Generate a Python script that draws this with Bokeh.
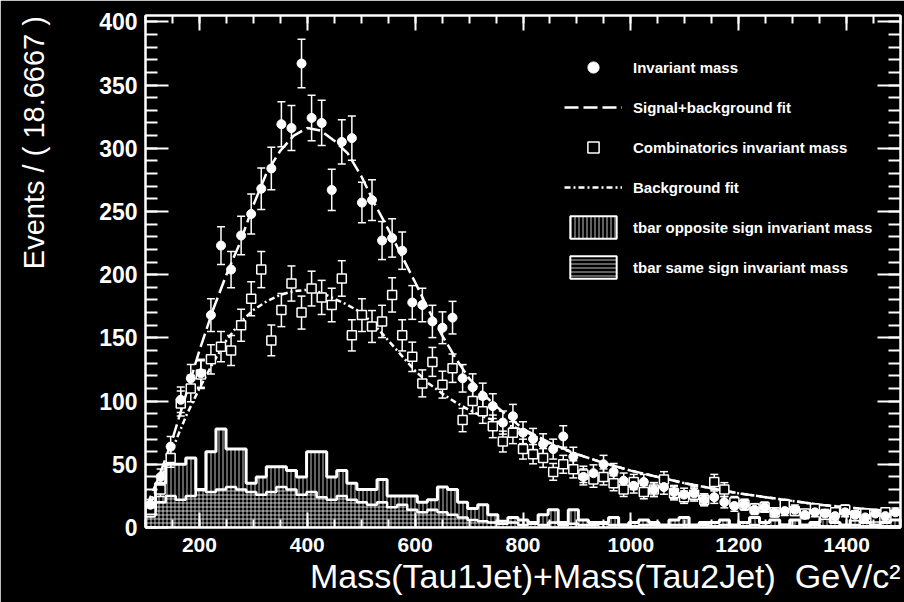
import numpy as np
from bokeh.plotting import figure
from bokeh.models import (Range1d, LinearAxis, Whisker, TeeHead, ColumnDataSource,
                          Legend, LegendItem, Title, SingleIntervalTicker)
from bokeh.embed import file_html
from bokeh.resources import INLINE

# 75 bins of 18.6667 GeV/c^2 between 100 and 1500
MASS_LO, MASS_HI, N_BINS = 100.0, 1500.0, 75

# Invariant mass (filled circles), events per bin
invariant_mass = [18, 40, 64, 101, 118, 122, 168, 223, 204, 231,
                  248, 268, 284, 319, 316, 367, 324, 320, 267, 305,
                  308, 257, 259, 227, 229, 219, 178, 176, 163, 158,
                  166, 118, 111, 104, 96, 83, 88, 75, 70, 66,
                  62, 72, 56, 40, 43, 50, 44, 37, 33, 36,
                  30, 32, 28, 26, 27, 22, 24, 20, 17, 18,
                  14, 16, 12, 13, 14, 10, 12, 11, 9, 12,
                  10, 8, 11, 9, 12]

# Combinatorics invariant mass (open squares)
combinatorics = [12, 30, 55, 98, 110, 121, 133, 143, 140, 160,
                 181, 204, 148, 172, 193, 170, 189, 182, 176, 197,
                 152, 168, 159, 163, 184, 152, 135, 114, 131, 113,
                 126, 85, 100, 92, 80, 68, 75, 62, 58, 55,
                 44, 50, 46, 42, 38, 40, 35, 30, 36, 28,
                 30, 38, 27, 24, 26, 22, 36, 30, 20, 18,
                 15, 16, 12, 18, 13, 11, 15, 10, 12, 14,
                 9, 11, 8, 12, 10]

# ttbar opposite-sign invariant mass histogram
tbar_opposite = [14, 35, 50, 50, 55, 30, 60, 78, 62, 62,
                 35, 40, 48, 48, 45, 40, 60, 60, 40, 45,
                 35, 30, 30, 38, 25, 25, 25, 20, 22, 32,
                 30, 20, 15, 18, 10, 5, 8, 6, 4, 10,
                 14, 4, 14, 6, 4, 4, 8, 2, 4, 6,
                 4, 2, 6, 8, 2, 4, 4, 6, 2, 4,
                 8, 4, 6, 2, 6, 2, 4, 8, 4, 2,
                 6, 4, 2, 4, 6]

# ttbar same-sign invariant mass histogram
tbar_same = [10, 20, 25, 22, 25, 30, 28, 30, 32, 30,
             28, 26, 28, 32, 30, 26, 28, 24, 22, 25,
             22, 20, 18, 20, 16, 18, 14, 12, 14, 12,
             10, 8, 6, 5, 4, 3, 4, 2, 3, 2,
             4, 2, 3, 2, 2, 3, 2, 2, 1, 2,
             2, 1, 2, 2, 1, 2, 1, 2, 1, 1,
             2, 1, 1, 2, 1, 1, 2, 1, 1, 1,
             2, 1, 1, 1, 1]

# Fitted curves sampled along the mass axis
fit_mass = [100, 125, 150, 175, 200, 225, 250, 275, 300, 325,
            350, 375, 400, 425, 450, 475, 500, 525, 550, 575,
            600, 625, 650, 675, 700, 725, 750, 800, 850, 900,
            950, 1000, 1050, 1100, 1150, 1200, 1250, 1300, 1350, 1400,
            1450, 1500]
sig_bkg_fit = [15, 40, 70, 105, 140, 172, 200, 225, 255, 281,
               298, 310, 316, 314, 306, 296, 278, 256, 236, 215,
               194, 172, 152, 134, 118, 106, 96, 78, 67, 58,
               51, 45, 40, 35, 31, 27, 24, 21, 18, 16,
               14, 12]
bkg_fit = [10, 35, 62, 88, 110, 130, 148, 162, 172, 179,
           184, 187, 188, 186, 181, 176, 170, 160, 148, 136,
           124, 114, 106, 99, 93, 88, 84, 77, 66, 58,
           51, 45, 40, 35, 31, 27, 24, 21, 18, 16,
           14, 12]

edges = np.linspace(MASS_LO, MASS_HI, N_BINS + 1)
centers = 0.5 * (edges[:-1] + edges[1:])

WHITE = "#ffffff"
FONT = "Liberation Sans"
# Leading no-break spaces push the centred axis title up against the top of the axis
Y_TITLE = "\u00a0" * 32 + "Events / ( 18.6667 )"

p = figure(width=904, height=602, output_backend="svg", toolbar_location=None,
           x_range=Range1d(MASS_LO, MASS_HI), y_range=Range1d(0, 405),
           background_fill_color="black", border_fill_color="black",
           min_border_left=145, min_border_right=4, min_border_top=15,
           min_border_bottom=75, x_axis_location=None, y_axis_location=None)
p.grid.visible = False
p.outline_line_color = WHITE
p.outline_line_width = 2


def style_axis(ax, tick_in, minor_in, labels=True, size="21px"):
    ax.axis_line_color = WHITE
    ax.axis_line_width = 2
    ax.major_tick_line_color = WHITE
    ax.minor_tick_line_color = WHITE
    ax.major_tick_line_width = 2
    ax.minor_tick_line_width = 2
    ax.major_tick_in = tick_in
    ax.major_tick_out = 0
    ax.minor_tick_in = minor_in
    ax.minor_tick_out = 0
    if labels:
        ax.major_label_text_color = WHITE
        ax.major_label_text_font = FONT
        ax.major_label_text_font_style = "bold"
        ax.major_label_text_font_size = size
    else:
        ax.major_label_text_font_size = "0px"
        ax.major_label_standoff = 0


yticker = SingleIntervalTicker(interval=50, num_minor_ticks=5)
xticker = SingleIntervalTicker(interval=200, num_minor_ticks=4)

left = LinearAxis(ticker=yticker)
style_axis(left, 23, 12, size="23px")
left.major_label_standoff = 8
right = LinearAxis(ticker=yticker)
style_axis(right, 23, 12, labels=False)
bottom = LinearAxis(ticker=xticker)
style_axis(bottom, 15, 8, size="21px")
bottom.major_label_standoff = 10
top = LinearAxis(ticker=xticker)
style_axis(top, 15, 8, labels=False)

left.axis_label = Y_TITLE
left.axis_label_standoff = 46
left.axis_label_text_color = WHITE
left.axis_label_text_font = FONT
left.axis_label_text_font_style = "normal"
left.axis_label_text_font_size = "29px"

p.add_layout(left, "left")
p.add_layout(right, "right")
p.add_layout(bottom, "below")
p.add_layout(top, "above")

p.add_layout(Title(text="Mass(Tau1Jet)+Mass(Tau2Jet)\u00a0\u00a0GeV/c\u00b2", align="right",
                   text_color=WHITE, text_font=FONT, text_font_style="normal",
                   text_font_size="34px", standoff=0), "below")

# Histograms: hatched fills plus step outlines
hist_src = ColumnDataSource(dict(left=edges[:-1], right=edges[1:],
                                 opp=tbar_opposite, same=tbar_same))
HATCH = dict(hatch_color=WHITE, hatch_alpha=0.75, hatch_scale=4, hatch_weight=1)
p.quad(left="left", right="right", bottom=0, top="opp", source=hist_src,
       fill_color=None, line_color=None, hatch_pattern="vertical_line", **HATCH)
p.quad(left="left", right="right", bottom=0, top="same", source=hist_src,
       fill_color=None, line_color=None, hatch_pattern="horizontal_line", **HATCH)
p.step(x=list(edges), y=list(tbar_opposite) + [tbar_opposite[-1]], mode="after",
       line_color=WHITE, line_width=3)
p.step(x=list(edges), y=list(tbar_same) + [tbar_same[-1]], mode="after",
       line_color=WHITE, line_width=2.5)

# Legend swatches for the histograms: flat boxes lying on the baseline of the first bin
swatch_src = ColumnDataSource(dict(left=[edges[0]], right=[edges[1]], bottom=[0], top=[0]))
leg_opp = p.quad(left="left", right="right", bottom="bottom", top="top", source=swatch_src,
                 fill_color="black", line_color=WHITE, line_width=2,
                 hatch_pattern="vertical_line", **HATCH)
leg_same = p.quad(left="left", right="right", bottom="bottom", top="top", source=swatch_src,
                  fill_color="black", line_color=WHITE, line_width=2,
                  hatch_pattern="horizontal_line", **HATCH)

# Fits
r_sb = p.line(fit_mass, sig_bkg_fit, line_color=WHITE, line_width=2.5, line_dash="14 5")
r_b = p.line(fit_mass, bkg_fit, line_color=WHITE, line_width=2.5, line_dash="6 3 2 3")

# Data points with Poisson error bars
inv = np.array(invariant_mass, dtype=float)
comb = np.array(combinatorics, dtype=float)
src_inv = ColumnDataSource(dict(x=centers, y=inv, lo=inv - np.sqrt(inv), hi=inv + np.sqrt(inv)))
src_comb = ColumnDataSource(dict(x=centers, y=comb, lo=comb - np.sqrt(comb), hi=comb + np.sqrt(comb)))

for src in (src_comb, src_inv):
    p.add_layout(Whisker(base="x", lower="lo", upper="hi", source=src, dimension="height",
                         line_color=WHITE, line_width=1.5,
                         upper_head=TeeHead(size=8, line_color=WHITE, line_width=1.5),
                         lower_head=TeeHead(size=8, line_color=WHITE, line_width=1.5)))

r_comb = p.scatter("x", "y", source=src_comb, marker="square", size=9,
                   fill_color="black", line_color=WHITE, line_width=1.5)
r_inv = p.scatter("x", "y", source=src_inv, marker="circle", size=9,
                  fill_color=WHITE, line_color=WHITE)

legend = Legend(items=[
    LegendItem(label="Invariant mass", renderers=[r_inv]),
    LegendItem(label="Signal+background fit", renderers=[r_sb]),
    LegendItem(label="Combinatorics invariant mass", renderers=[r_comb]),
    LegendItem(label="Background fit", renderers=[r_b]),
    LegendItem(label="tbar opposite sign invariant mass", renderers=[leg_opp]),
    LegendItem(label="tbar same sign invariant mass", renderers=[leg_same]),
], location=(419, 246), background_fill_alpha=0, border_line_alpha=0,
    label_text_color=WHITE, label_text_font=FONT, label_text_font_style="bold",
    label_text_font_size="15px", glyph_width=58, glyph_height=28, spacing=12,
    padding=0, margin=0, label_standoff=11)
p.add_layout(legend)

open("out.html", "w").write(file_html(p, INLINE))
